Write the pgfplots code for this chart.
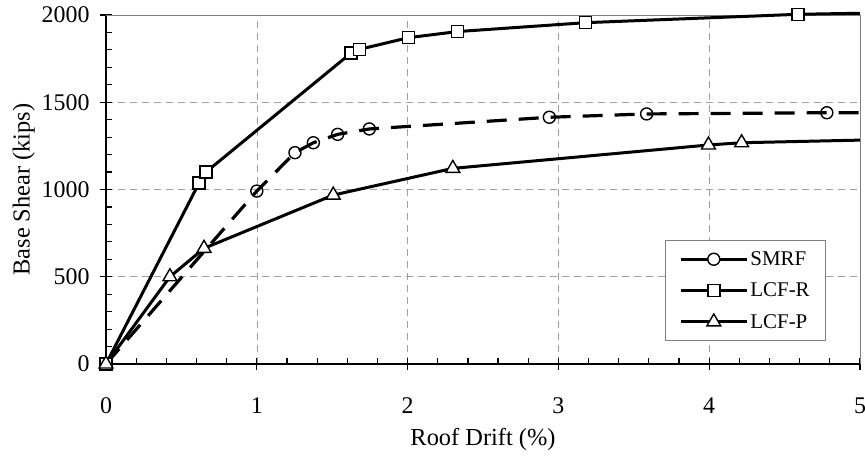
\documentclass[border=0pt]{standalone}
\usepackage{fontspec}
\setmainfont{Liberation Serif}
\usepackage{pgfplots}
\pgfplotsset{compat=1.18}

\begin{document}
\begin{tikzpicture}
\begin{axis}[
  scale only axis,
  width=754bp, height=349bp,
  xmin=0, xmax=5, ymin=0, ymax=2000,
  xtick={0,1,2,3,4,5},
  ytick={0,500,1000,1500,2000},
  minor x tick num=4,
  minor y tick num=4,
  axis x line*=bottom,
  axis y line*=left,
  axis line style={line width=1.6bp, -},
  tick style={line width=1.2bp, black},
  tick align=inside,
  major tick length=12bp,
  minor tick length=6bp,
  every major x tick/.append style={yshift=-6bp},
  every major y tick/.append style={xshift=-6bp},
  grid=major,
  grid style={gray!75, line width=0.6bp, dash pattern=on 7bp off 5bp},
  /pgf/number format/assume math mode=true,
  /pgf/number format/set thousands separator={},
  ticklabel style={font=\fontsize{24}{28}\selectfont},
  xticklabel style={yshift=-30bp},
  yticklabel style={xshift=-13bp},
  xlabel={Roof Drift (\%)},
  ylabel={Base Shear (kips)},
  xlabel style={font=\fontsize{24.5}{28}\selectfont, yshift=-8bp},
  ylabel style={font=\fontsize{24.5}{28}\selectfont, yshift=0bp},
  clip=false,
  legend cell align=left,
  legend style={at={(0.955,0.066)}, anchor=south east, draw=gray, line width=0.8bp,
    font=\fontsize{21}{24}\selectfont, row sep=12bp, inner xsep=14bp, inner ysep=9bp},
  legend image code/.code={
    \draw[mark indices={2}] plot coordinates {(0bp,0bp) (33bp,0bp) (66bp,0bp)};},
]
\draw[gray, line width=0.8bp] (rel axis cs:0,1) -- (rel axis cs:1,1) -- (rel axis cs:1,0);

\addplot[black, line width=3.2bp, dash pattern=on 20bp off 12bp,
  mark=o, mark size=6bp, mark indices={1,...,9},
  mark options={solid, fill=white, line width=1.4bp},
  legend image post style={dash pattern=on 27bp off 12bp}]
  coordinates {(0,0) (1.0,991) (1.253,1211) (1.375,1268) (1.536,1316) (1.746,1347)
    (2.94,1414) (3.585,1433) (4.78,1440) (5.0,1440)};
\addplot[black, line width=3bp,
  mark=square*, mark size=6bp, mark indices={1,...,9},
  mark options={fill=white, line width=1.4bp}]
  coordinates {(0,0) (0.617,1037) (0.663,1100) (1.625,1782) (1.68,1803) (2.005,1870)
    (2.33,1905) (3.18,1956) (4.59,2004) (5.0,2010)};
\addplot[black, line width=3bp,
  mark=triangle*, mark size=8bp, mark indices={1,...,7},
  mark options={fill=white, line width=1.4bp}]
  coordinates {(0,0) (0.424,500) (0.65,663) (1.507,968) (2.30,1121) (3.995,1255)
    (4.215,1268) (5.0,1283)};
\legend{SMRF, LCF-R, LCF-P}
\end{axis}
\pgfresetboundingbox
\path[use as bounding box] ([xshift=-106bp,yshift=-95bp]current axis.south west)
  rectangle ([xshift=5bp,yshift=15bp]current axis.north east);
\end{tikzpicture}
\end{document}
